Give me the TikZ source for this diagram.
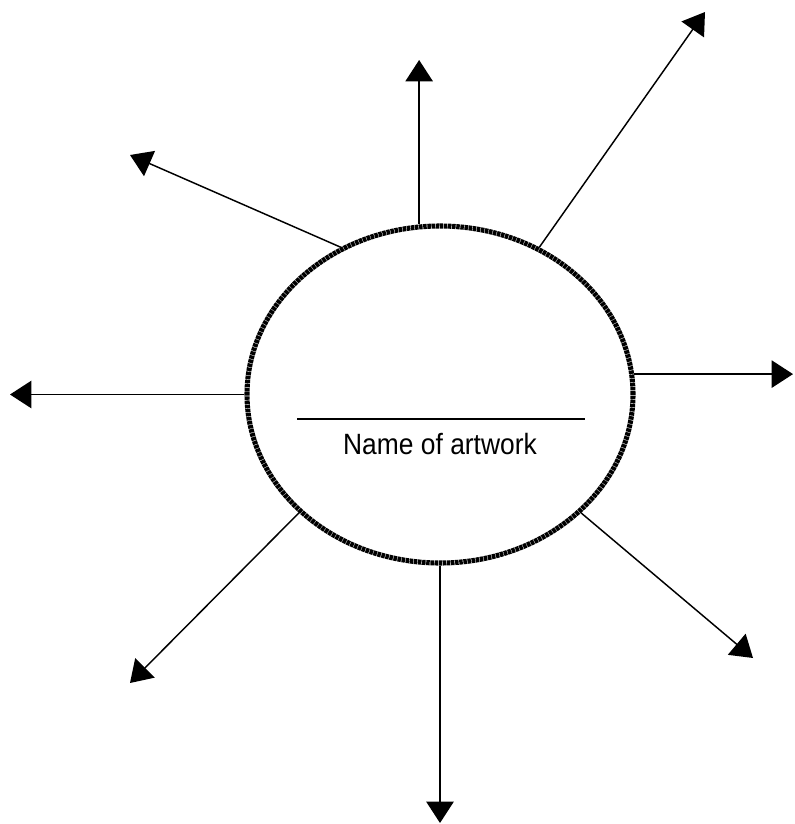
\documentclass[tikz,border=0pt]{standalone}
\usepackage{fontspec}
\setmainfont[FakeStretch=0.9]{Liberation Sans}
\usetikzlibrary{shapes.geometric,arrows.meta}

\begin{document}
\begin{tikzpicture}[
    x=0.75pt, y=-0.75pt,
    artwork/.style={ellipse, draw, line width=3.8pt, dash pattern=on 2.6pt off 0.5pt,
        minimum width=289.5pt, minimum height=252.75pt, inner sep=0pt},
    ray/.style={line width=1.1pt, -{Triangle[length=16pt,width=20.5pt]}},
    caption/.style={font=\fontsize{22pt}{24pt}\selectfont, inner sep=0pt}
]
\useasboundingbox (0,0) rectangle (794,824);

\node (art) [artwork] at (440,394.5) {};
\node (name) [caption] at (440,444) {Name of artwork};
\draw[line width=1.1pt] (297,419) -- (585,419);

% tips of the rays
\coordinate (tipN)  at (417,60);
\coordinate (tipNE) at (705,12);
\coordinate (tipNW) at (130,155);
\coordinate (tipE)  at (793,372);
\coordinate (tipW)  at (10,395.7);
\coordinate (tipSW) at (130,683);
\coordinate (tipS)  at (441,823);
\coordinate (tipSE) at (753,658);

\draw[ray] (art.97.8) -- (art.97.8 |- tipN);
\draw[ray] (art.56.6) -- (tipNE);
\draw[ray] (art.124.3) -- (tipNW);
\draw[ray] (art.6.7) -- (art.6.7 -| tipE);
\draw[ray] (art.180.4) -- (art.180.4 -| tipW);
\draw[ray] (art.220.1) -- (tipSW);
\draw[ray] (art.south) -- (art.south |- tipS);
\draw[ray] (art.320.5) -- (tipSE);
\end{tikzpicture}
\end{document}
